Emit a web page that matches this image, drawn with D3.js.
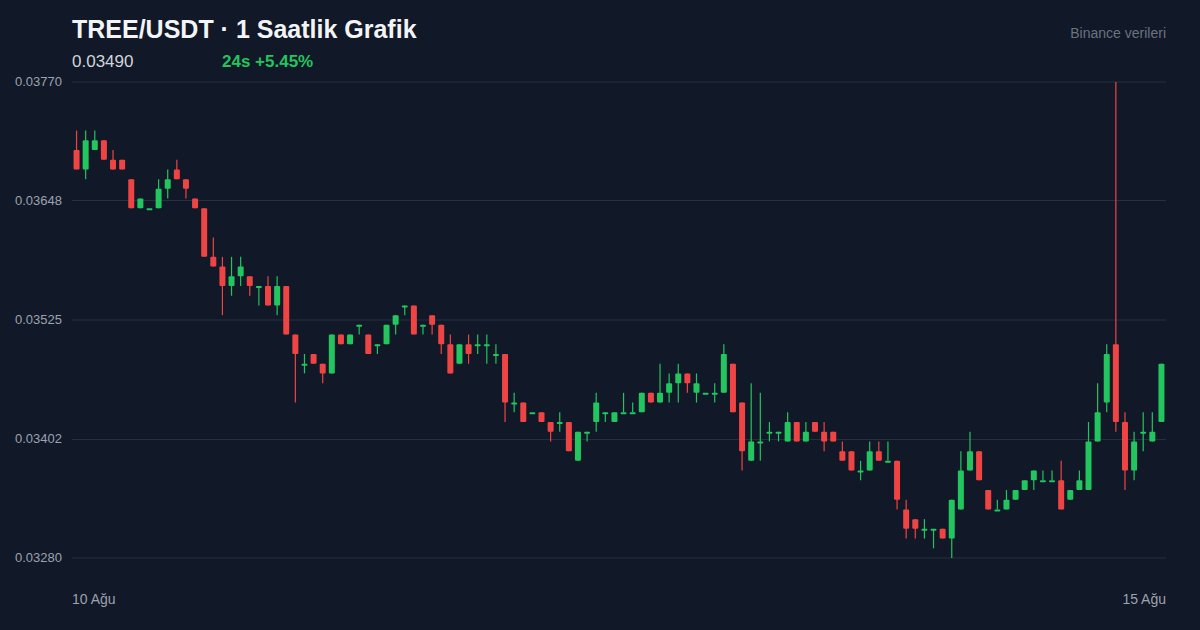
<!DOCTYPE html>
<html>
<head>
<meta charset="utf-8">
<script src="https://cdn.jsdelivr.net/npm/d3@7"></script>
<style>
  html, body { margin: 0; padding: 0; background: #111827; }
  svg { display: block; font-family: "Liberation Sans", Arial, sans-serif; }
</style>
</head>
<body>
<svg id="chart" width="1200" height="630"></svg>
<script>
const opens = [0.0370,0.0368,0.0370,0.0371,0.0369,0.0369,0.0367,0.0364,0.0364,0.0364,0.0366,0.0368,0.0367,0.0365,0.0364,0.0359,0.0358,0.0356,0.0357,0.0357,
  0.0356,0.0356,0.0354,0.0356,0.0351,0.0348,0.0349,0.0348,0.0347,0.0351,0.0350,0.0352,0.0351,0.0350,0.0350,0.0352,0.0354,0.0354,0.0352,0.0353,
  0.0352,0.0350,0.0348,0.0350,0.0350,0.0350,0.0349,0.0349,0.0344,0.0344,0.0343,0.0343,0.0342,0.0342,0.0342,0.0338,0.0341,0.0342,0.0343,0.0342,
  0.0343,0.0343,0.0343,0.0345,0.0344,0.0345,0.0346,0.0347,0.0345,0.0345,0.0345,0.0345,0.0348,0.0344,0.0338,0.0340,0.0341,0.0341,0.0340,0.0342,
  0.0340,0.0342,0.0341,0.0341,0.0339,0.0339,0.0337,0.0337,0.0339,0.0338,0.0338,0.0333,0.0332,0.0331,0.0331,0.0331,0.0330,0.0333,0.0337,0.0339,
  0.0335,0.0333,0.0333,0.0334,0.0335,0.0336,0.0336,0.0336,0.0336,0.0334,0.0335,0.0335,0.0340,0.0344,0.0350,0.0342,0.0337,0.0341,0.0340,0.0342]
const highs = [0.0372,0.0372,0.0372,0.0371,0.0370,0.0369,0.0367,0.0365,0.0364,0.0367,0.0368,0.0369,0.0367,0.0365,0.0364,0.0361,0.0359,0.0359,0.0359,0.0357,
  0.0356,0.0357,0.0357,0.0356,0.0351,0.0349,0.0349,0.0348,0.0351,0.0351,0.0351,0.0352,0.0351,0.0350,0.0352,0.0353,0.0354,0.0354,0.0352,0.0353,
  0.0352,0.0351,0.0350,0.0351,0.0351,0.0351,0.0350,0.0349,0.0345,0.0344,0.0343,0.0343,0.0342,0.0343,0.0342,0.0341,0.0341,0.0345,0.0343,0.0343,
  0.0345,0.0344,0.0345,0.0345,0.0348,0.0347,0.0348,0.0347,0.0347,0.0345,0.0346,0.0350,0.0348,0.0344,0.0346,0.0345,0.0342,0.0341,0.0343,0.0342,
  0.0342,0.0342,0.0342,0.0341,0.0340,0.0339,0.0338,0.0340,0.0340,0.0340,0.0338,0.0334,0.0332,0.0332,0.0331,0.0331,0.0334,0.0339,0.0341,0.0339,
  0.0335,0.0334,0.0335,0.0335,0.0336,0.0337,0.0337,0.0337,0.0338,0.0335,0.0337,0.0342,0.0346,0.0350,0.0377,0.0343,0.0341,0.0343,0.0343,0.0348]
const lows = [0.0368,0.0367,0.0370,0.0369,0.0368,0.0368,0.0364,0.0364,0.0364,0.0364,0.0365,0.0367,0.0365,0.0364,0.0359,0.0358,0.0353,0.0355,0.0356,0.0355,
  0.0354,0.0354,0.0353,0.0351,0.0344,0.0347,0.0348,0.0346,0.0347,0.0350,0.0350,0.0351,0.0349,0.0349,0.0350,0.0351,0.0353,0.0351,0.0351,0.0351,
  0.0349,0.0347,0.0348,0.0348,0.0349,0.0348,0.0348,0.0342,0.0343,0.0342,0.0343,0.0342,0.0340,0.0341,0.0339,0.0338,0.0340,0.0341,0.0342,0.0342,
  0.0343,0.0343,0.0343,0.0344,0.0344,0.0344,0.0344,0.0345,0.0344,0.0345,0.0344,0.0345,0.0343,0.0337,0.0338,0.0338,0.0340,0.0340,0.0340,0.0340,
  0.0340,0.0341,0.0339,0.0340,0.0338,0.0337,0.0336,0.0337,0.0338,0.0338,0.0333,0.0330,0.0330,0.0330,0.0329,0.0330,0.0328,0.0333,0.0337,0.0336,
  0.0333,0.0333,0.0333,0.0334,0.0335,0.0335,0.0336,0.0336,0.0333,0.0334,0.0335,0.0335,0.0340,0.0343,0.0341,0.0335,0.0336,0.0339,0.0340,0.0342]
const closes = [0.0368,0.0371,0.0371,0.0369,0.0368,0.0368,0.0364,0.0365,0.0364,0.0366,0.0367,0.0367,0.0366,0.0364,0.0359,0.0358,0.0356,0.0357,0.0358,0.0356,
  0.0356,0.0354,0.0356,0.0351,0.0349,0.0348,0.0348,0.0347,0.0351,0.0350,0.0351,0.0352,0.0349,0.0350,0.0352,0.0353,0.0354,0.0351,0.0352,0.0352,
  0.0350,0.0347,0.0350,0.0349,0.0350,0.0350,0.0349,0.0344,0.0344,0.0342,0.0343,0.0342,0.0341,0.0342,0.0339,0.0341,0.0341,0.0344,0.0343,0.0343,
  0.0343,0.0343,0.0345,0.0344,0.0345,0.0346,0.0347,0.0346,0.0346,0.0345,0.0345,0.0349,0.0343,0.0339,0.0340,0.0340,0.0341,0.0341,0.0342,0.0340,
  0.0341,0.0341,0.0340,0.0340,0.0338,0.0337,0.0337,0.0339,0.0338,0.0338,0.0334,0.0331,0.0331,0.0331,0.0331,0.0330,0.0334,0.0337,0.0339,0.0336,
  0.0333,0.0333,0.0334,0.0335,0.0336,0.0337,0.0336,0.0336,0.0333,0.0335,0.0336,0.0340,0.0343,0.0349,0.0342,0.0337,0.0340,0.0341,0.0341,0.0348]

const yTicks = [0.03280, 0.03402, 0.03525, 0.03648, 0.03770]
const xLabels = ['10 Ağu', '15 Ağu']

const width = 1200, height = 630
const marginLeft = 72, marginRight = 34, marginTop = 82, marginBottom = 72
const green = '#22c55e', red = '#ef4444'

const svg = d3.select('#chart')

svg.append('rect')
    .attr('width', width)
    .attr('height', height)
    .attr('fill', '#111827')

const candles = opens.map((o, i) => ({ i, o, h: highs[i], l: lows[i], c: closes[i] }))

const xScale = d3.scaleBand()
    .domain(d3.range(candles.length))
    .range([marginLeft, width - marginRight])

const yScale = d3.scaleLinear()
    .domain([0.0328, 0.0377])
    .range([height - marginBottom, marginTop])

// grid + labels
svg.append('g')
  .selectAll('line')
  .data(yTicks)
  .join('line')
    .attr('x1', marginLeft)
    .attr('x2', width - marginRight)
    .attr('y1', d => yScale(d))
    .attr('y2', d => yScale(d))
    .attr('stroke', '#253041')
    .attr('stroke-width', 1)

svg.append('g')
  .selectAll('text')
  .data(yTicks)
  .join('text')
    .attr('x', 15)
    .attr('y', d => yScale(d) + 4)
    .attr('fill', '#9ca3af')
    .attr('font-size', 13)
    .text(d => d.toFixed(5))

const bw = xScale.bandwidth()
const cx = d => xScale(d.i) + bw / 2
const col = d => d.c >= d.o ? green : red

const g = svg.append('g')

g.selectAll('line')
  .data(candles)
  .join('line')
    .attr('x1', cx)
    .attr('x2', cx)
    .attr('y1', d => yScale(d.h))
    .attr('y2', d => yScale(d.l))
    .attr('stroke', col)
    .attr('stroke-width', 1.2)

g.selectAll('rect')
  .data(candles)
  .join('rect')
    .attr('x', d => cx(d) - 3)
    .attr('width', 6)
    .attr('y', d => yScale(Math.max(d.o, d.c)))
    .attr('height', d => Math.max(2, Math.abs(yScale(d.o) - yScale(d.c))))
    .attr('rx', 1)
    .attr('fill', col)

// header
svg.append('text')
    .attr('x', 72).attr('y', 38)
    .attr('fill', '#f3f4f6')
    .attr('font-size', 25).attr('font-weight', 'bold')
    .text('TREE/USDT · 1 Saatlik Grafik')

svg.append('text')
    .attr('x', 72).attr('y', 67)
    .attr('fill', '#d1d5db')
    .attr('font-size', 17)
    .text('0.03490')

svg.append('text')
    .attr('x', 222).attr('y', 67)
    .attr('fill', green)
    .attr('font-size', 17).attr('font-weight', 'bold')
    .text('24s +5.45%')

svg.append('text')
    .attr('x', width - marginRight).attr('y', 38)
    .attr('text-anchor', 'end')
    .attr('fill', '#6b7280')
    .attr('font-size', 14)
    .text('Binance verileri')

svg.append('text')
    .attr('x', marginLeft).attr('y', 604)
    .attr('fill', '#9ca3af').attr('font-size', 14)
    .text(xLabels[0])

svg.append('text')
    .attr('x', width - marginRight).attr('y', 604)
    .attr('text-anchor', 'end')
    .attr('fill', '#9ca3af').attr('font-size', 14)
    .text(xLabels[1])
</script>
</body>
</html>
